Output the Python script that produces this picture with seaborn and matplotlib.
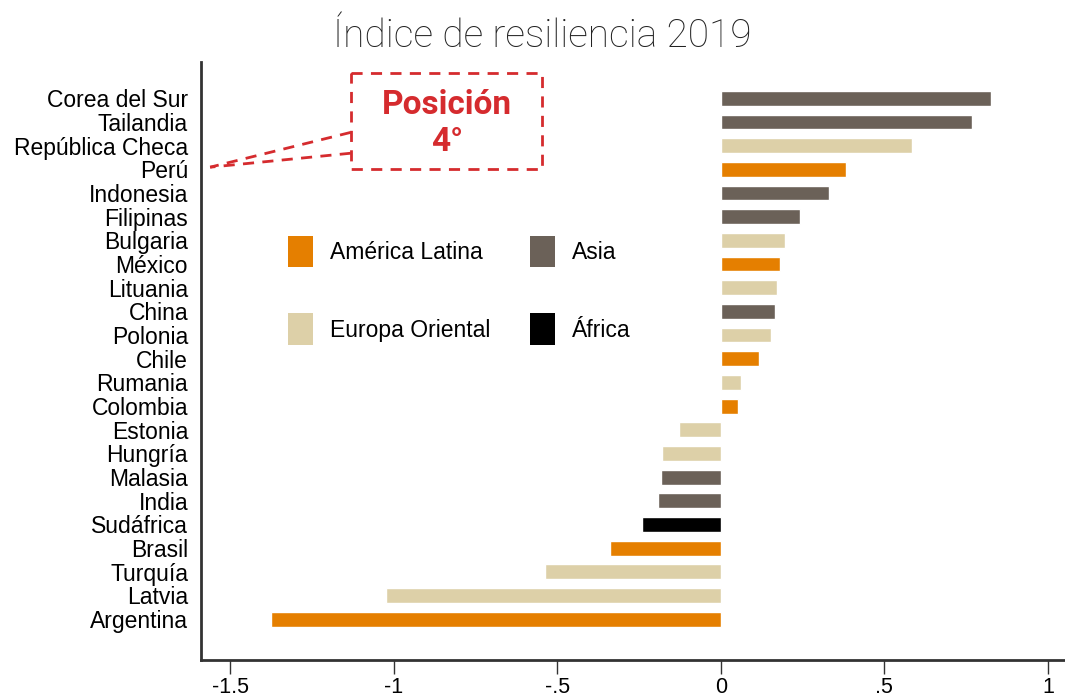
import matplotlib
matplotlib.use("Agg")
import matplotlib.pyplot as plt
from matplotlib.patches import Patch, Rectangle
import seaborn as sns
import pandas as pd

paises = ["Corea del Sur", "Tailandia", "República Checa", "Perú", "Indonesia",
          "Filipinas", "Bulgaria", "México", "Lituania", "China", "Polonia",
          "Chile", "Rumania", "Colombia", "Estonia", "Hungría", "Malasia",
          "India", "Sudáfrica", "Brasil", "Turquía", "Latvia", "Argentina"]
indice = [0.826, 0.768, 0.585, 0.384, 0.332, 0.241, 0.195, 0.180, 0.171,
          0.165, 0.152, 0.116, 0.061, 0.052, -0.128, -0.180, -0.183, -0.192,
          -0.241, -0.338, -0.537, -1.024, -1.375]
region = ["Asia", "Asia", "Europa Oriental", "América Latina", "Asia",
          "Asia", "Europa Oriental", "América Latina", "Europa Oriental",
          "Asia", "Europa Oriental", "América Latina", "Europa Oriental",
          "América Latina", "Europa Oriental", "Europa Oriental", "Asia",
          "Asia", "África", "América Latina", "Europa Oriental",
          "Europa Oriental", "América Latina"]

colores = {"América Latina": "#E57F00", "Europa Oriental": "#DDD0A8",
           "Asia": "#6B6158", "África": "#000000"}
orden_leyenda = ["América Latina", "Europa Oriental", "Asia", "África"]
xticks = [-1.5, -1, -0.5, 0, 0.5, 1]
xlabels = ["-1.5", "-1", "-.5", "0", ".5", "1"]

df = pd.DataFrame({"pais": paises, "indice": indice, "region": region})

sns.set_style("white")
plt.rcParams["font.family"] = ["Liberation Sans", "DejaVu Sans"]

fig = plt.figure(figsize=(10.65, 7), dpi=100)
ax = fig.add_axes([0.189, 0.057, 0.811, 0.854])

sns.barplot(data=df, x="indice", y="pais", hue="region", palette=colores,
            dodge=False, width=0.63, orient="h", legend=False, ax=ax,
            saturation=1)

ax.set_xlim(-1.588, 1.052)
ax.set_ylim(len(paises) - 1 + 1.73, -1.52)
ax.set_xticks(xticks)
ax.set_xticklabels(xlabels)
ax.set_xlabel("")
ax.set_ylabel("")
ax.tick_params(axis="x", length=10, width=1, color="#333333", labelsize=15.5,
               labelcolor="black", pad=2, direction="out", bottom=True)
ax.tick_params(axis="y", length=0, labelsize=16.5, labelcolor="black", pad=9.5)
for s in ["top", "right"]:
    ax.spines[s].set_visible(False)
for s in ["left", "bottom"]:
    ax.spines[s].set_color("#333333")
    ax.spines[s].set_linewidth(2)

handles = [Patch(facecolor=colores[r], edgecolor="none", label=r)
           for r in orden_leyenda]
leg = ax.legend(handles=handles, ncol=2, frameon=False, loc="upper left",
                bbox_to_anchor=(0.1, 0.71), fontsize=16.5, handlelength=1.1,
                handleheight=1.76, handletextpad=0.75, columnspacing=1.72,
                labelspacing=2.0, borderpad=0, borderaxespad=0)
for t in leg.get_texts():
    t.set_color("black")

# recuadro de anotación
rojo = "#D52B2E"
ax.add_patch(Rectangle((-1.131, -1.06), 0.585, 4.06, fill=False,
                       edgecolor=rojo, linestyle=(0, (4, 3)), linewidth=2,
                       clip_on=False))
ax.text(-0.838, 1.06, "Posición\n4°", color=rojo, fontsize=24,
        fontweight="bold", family="Roboto", ha="center", va="center",
        linespacing=1.2)
ax.plot([-1.131, -1.561], [1.44, 2.91], color=rojo, linestyle=(0, (4, 3)),
        linewidth=2)
ax.plot([-1.131, -1.561], [2.32, 2.91], color=rojo, linestyle=(0, (4, 3)),
        linewidth=2)

fig.suptitle("Índice de resiliencia 2019", y=0.975, x=0.509, fontsize=28,
             family="Roboto", fontweight="light", color="#222222")

fig.savefig("out.png", dpi=100)
